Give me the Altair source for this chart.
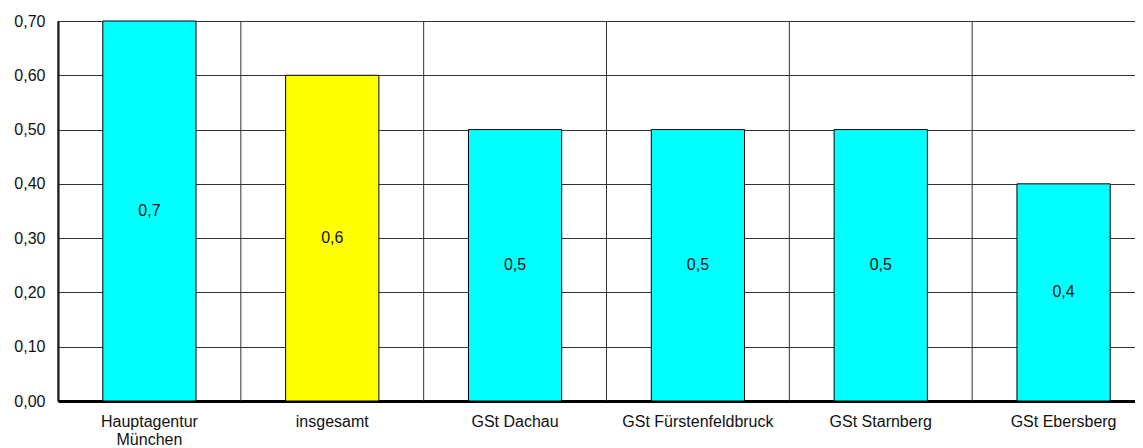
import altair as alt
import pandas as pd

categories = ["Hauptagentur\nMünchen", "insgesamt", "GSt Dachau",
              "GSt Fürstenfeldbruck", "GSt Starnberg", "GSt Ebersberg"]
values = [0.7, 0.6, 0.5, 0.5, 0.5, 0.4]
colors = ["#00FFFF", "#FFFF00", "#00FFFF", "#00FFFF", "#00FFFF", "#00FFFF"]
y_ticks = [0.0, 0.1, 0.2, 0.3, 0.4, 0.5, 0.6, 0.7]

df = pd.DataFrame({"cat": categories, "value": values, "color": colors})

FONT = "Liberation Sans"
TXT = "#111111"
x_scale = alt.Scale(domain=categories, paddingInner=0, paddingOuter=0)
y_scale = alt.Scale(domain=[0, 0.7], nice=False)

x_axis = alt.Axis(title=None, labelExpr="split(datum.label, '\\n')",
                  labelAngle=0, labelLimit=0, ticks=False,
                  domainColor="#000000", domainWidth=3,
                  labelFont=FONT, labelFontSize=16, labelColor=TXT,
                  labelPadding=12, labelLineHeight=18, grid=False)
y_axis = alt.Axis(title=None, values=y_ticks,
                  labelExpr="replace(format(datum.value, '.2f'), '.', ',')",
                  ticks=False, domainColor="#000000", domainWidth=2,
                  gridColor="#333333", gridWidth=1, gridOpacity=1,
                  labelFont=FONT, labelFontSize=16, labelColor=TXT,
                  labelPadding=13)

base = alt.Chart(df)

vgrid = base.mark_rule(color="#333333", strokeWidth=1).encode(
    x=alt.X("cat:N", scale=x_scale, bandPosition=0, axis=x_axis, sort=categories)
)

bars = base.mark_bar(stroke="#000000", strokeWidth=1,
                     width=alt.RelativeBandSize(0.51)).encode(
    x=alt.X("cat:N", scale=x_scale, sort=categories, axis=x_axis),
    y=alt.Y("value:Q", scale=y_scale, axis=y_axis),
    color=alt.Color("color:N", scale=None),
)

labels = base.transform_calculate(
    mid="datum.value / 2",
    txt="replace(format(datum.value, '.1f'), '.', ',')",
).mark_text(font=FONT, fontSize=16, color=TXT).encode(
    x=alt.X("cat:N", scale=x_scale, sort=categories, axis=x_axis),
    y=alt.Y("mid:Q", scale=y_scale, axis=y_axis),
    text="txt:N",
)

chart = alt.layer(vgrid, bars, labels).properties(
    width=1097, height=380,
    autosize=alt.AutoSizeParams(type="none"),
    padding={"left": 50, "top": 13, "right": -20, "bottom": 47},
).configure_view(strokeWidth=0).configure(background="#FFFFFF")

chart.save("out.html", embed_options={"renderer": "svg", "actions": False})
